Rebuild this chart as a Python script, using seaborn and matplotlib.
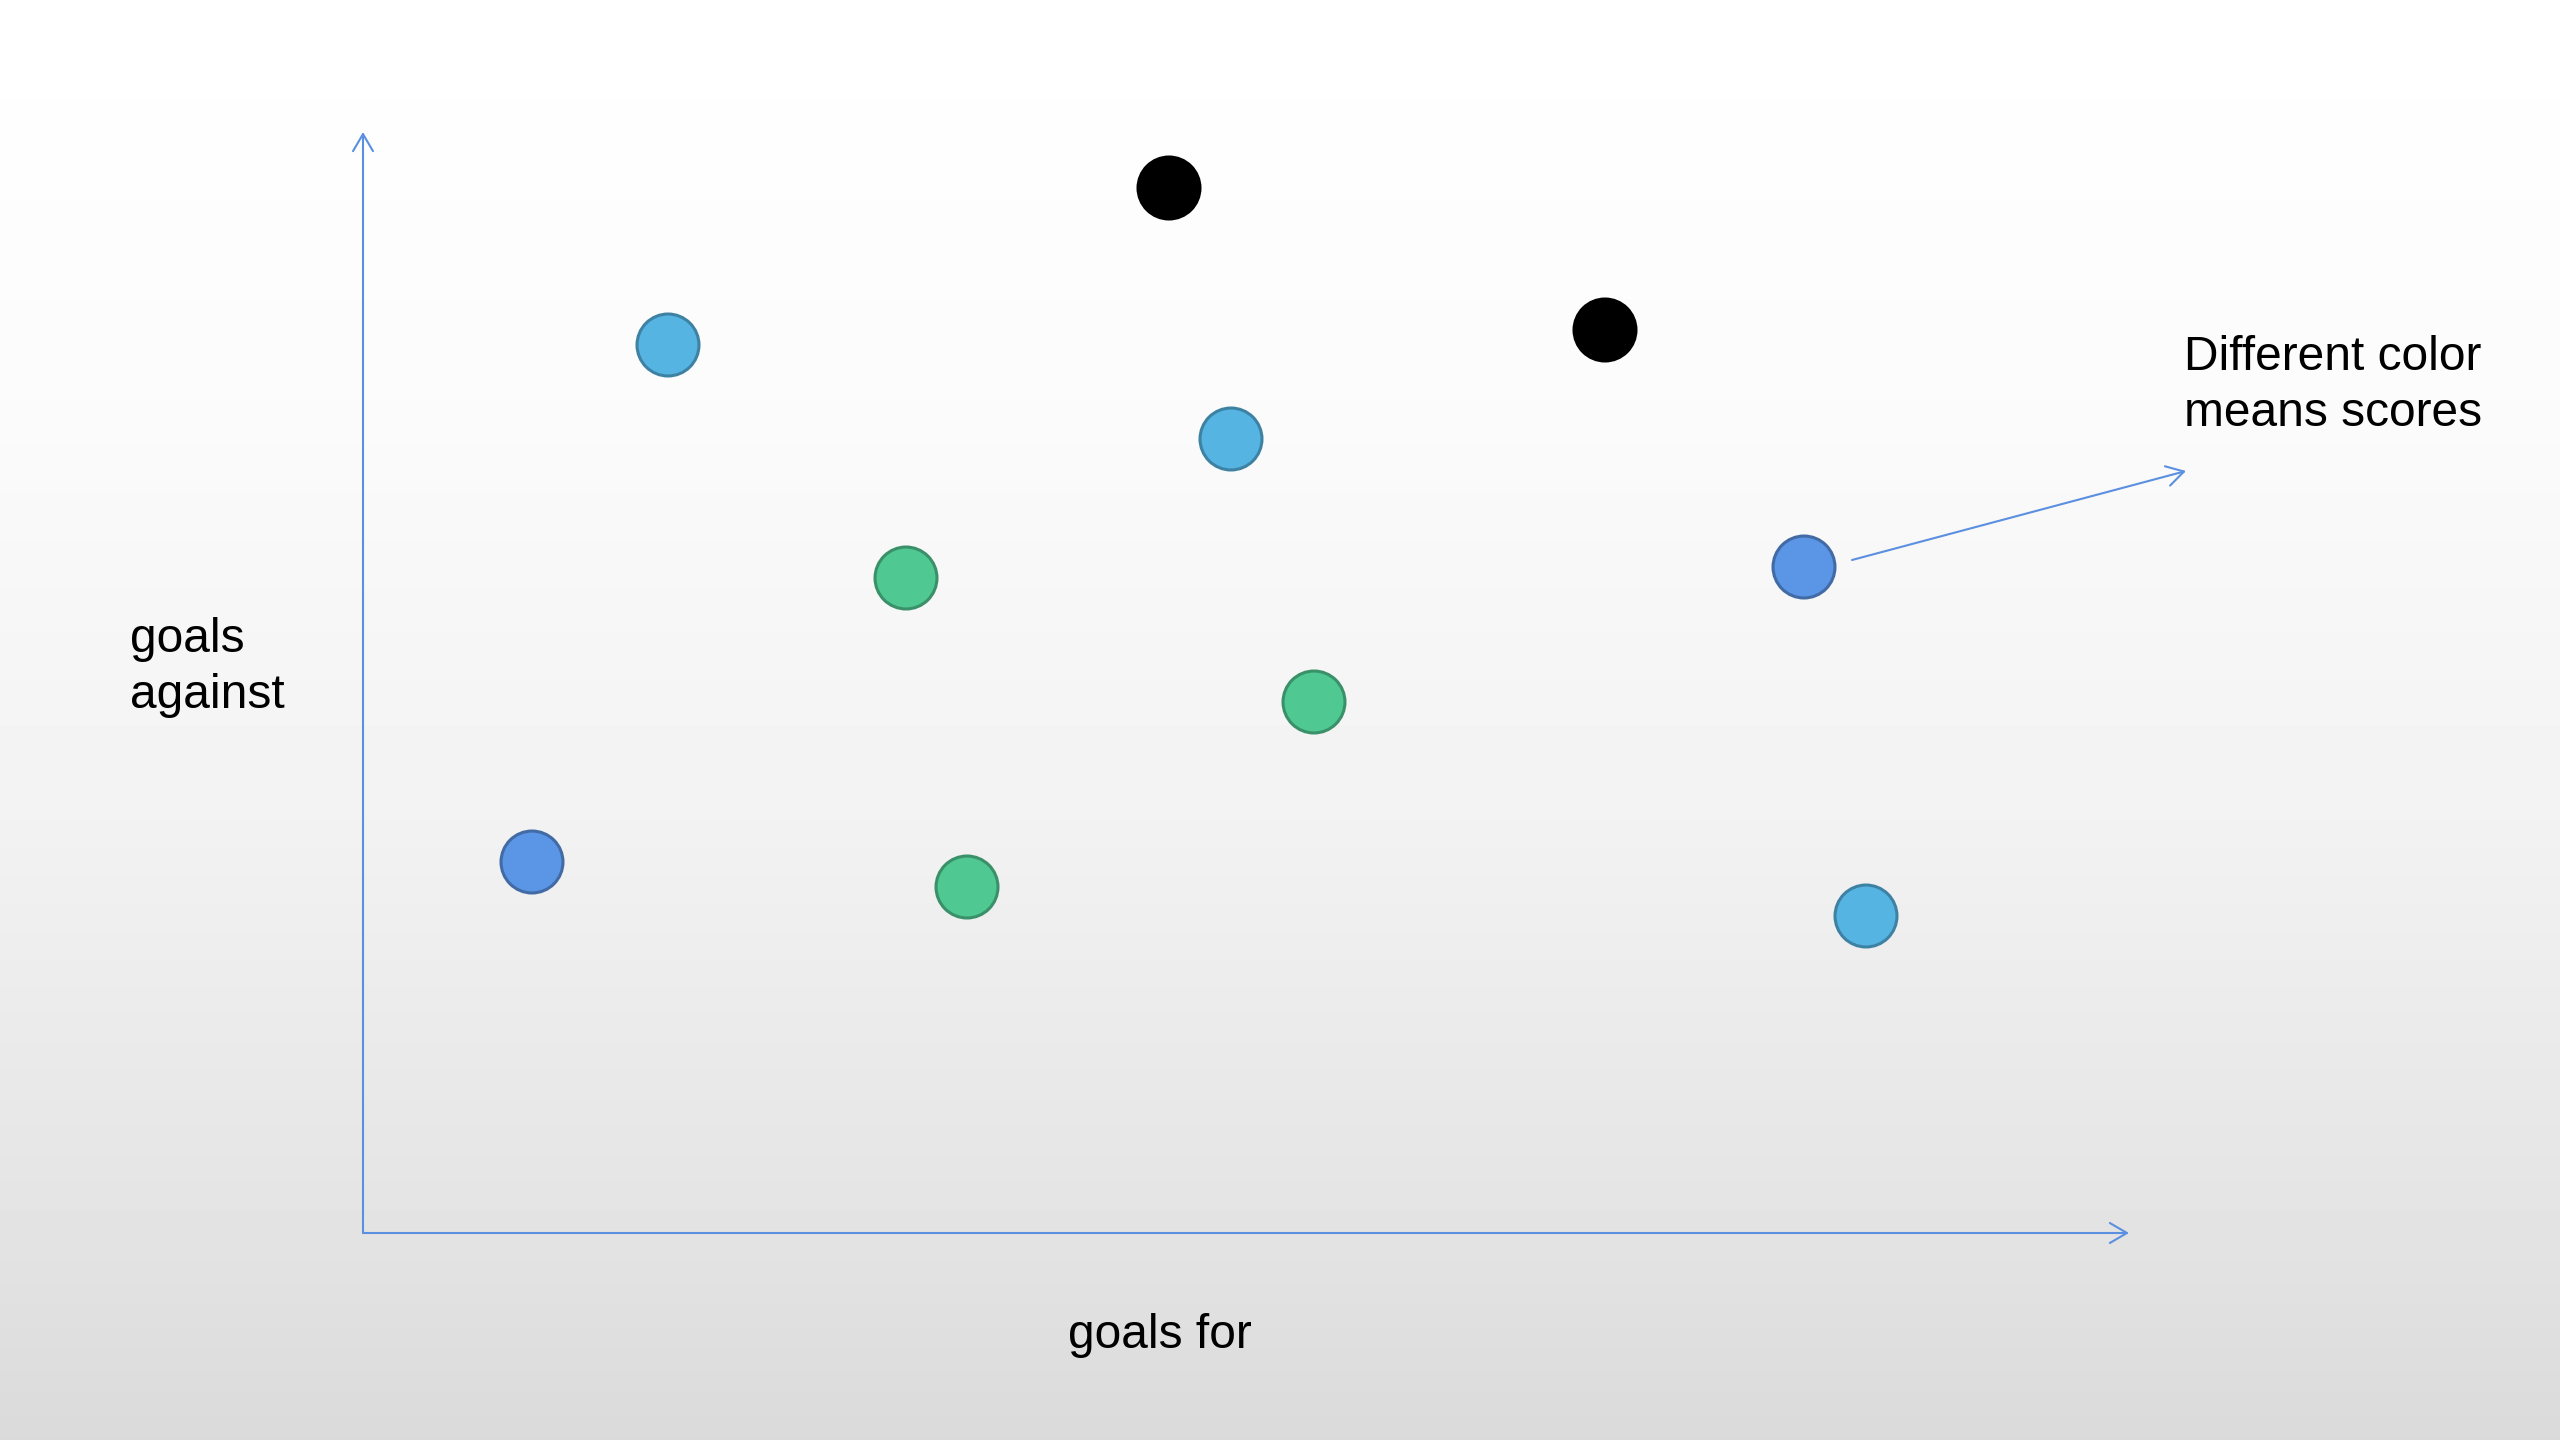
import numpy as np
import pandas as pd
import matplotlib
matplotlib.use("Agg")
import matplotlib.pyplot as plt
import seaborn as sns

# teams: goals for / goals against, colour = score group
goals_for = [3.05, 8.06, 12.42, 8.68, 5.43, 14.41, 9.51, 1.69, 6.04, 15.03]
goals_against = [8.88, 10.45, 9.03, 7.94, 6.55, 6.66, 5.31, 3.71, 3.46, 3.17]
score = ["A", "B", "B", "A", "D", "C", "D", "C", "D", "A"]
score_order = ["A", "B", "C", "D"]
score_colors = ["#56B4E3", "#000000", "#5B95E5", "#4FC892"]

x_label = "goals for"
y_label = "goals\nagainst"
note = "Different color\nmeans scores"

df = pd.DataFrame({"goals_for": goals_for, "goals_against": goals_against, "score": score})

sns.set_style("white")
plt.rcParams["font.family"] = ["Liberation Sans", "DejaVu Sans"]

fig = plt.figure(figsize=(25.6, 14.4), dpi=100)
ax = fig.add_axes([0, 0, 1, 1])
xmin, xmax, ymin, ymax = -3.63, 21.97, -2.07, 12.33

# slide-like grey gradient background
ys = np.arange(1440)
grad = np.interp(ys, [0, 400, 820, 1240, 1440], [255, 251, 242, 227, 218]) / 255
ax.imshow(np.repeat(grad[:, None], 2, axis=1), cmap="gray", vmin=0, vmax=1,
          extent=(xmin, xmax, ymin, ymax), aspect="auto", zorder=0)

sns.scatterplot(data=df, x="goals_for", y="goals_against", hue="score",
                hue_order=score_order, palette=score_colors, s=1990,
                linewidth=2.2, legend=False, ax=ax, zorder=3)
pts = ax.collections[-1]
fc = pts.get_facecolors()
ec = fc.copy()
ec[:, :3] = fc[:, :3] * 0.72
pts.set_edgecolors(ec)

axis_col = "#5B8FE0"
arrow = dict(arrowstyle="->,head_length=0.41,head_width=0.24", color=axis_col,
             lw=1.5, shrinkA=0, shrinkB=0, mutation_scale=30)
ax.annotate("", xy=(0, 11.01), xytext=(0, 0), arrowprops=arrow, zorder=2)
ax.annotate("", xy=(17.66, 0), xytext=(0, 0), arrowprops=arrow, zorder=2)
ax.annotate("", xy=(18.23, 7.62), xytext=(14.89, 6.73), arrowprops=arrow, zorder=2)

ax.set_xlim(xmin, xmax)
ax.set_ylim(ymin, ymax)
ax.axis("off")

txt = dict(fontsize=34.5, va="baseline", color="black", linespacing=1.31)
fig.text(1068 / 2560, 1 - 1348 / 1440, x_label, **txt)
fig.text(130 / 2560, 1 - 708 / 1440, y_label, **txt)
fig.text(2184 / 2560, 1 - 426 / 1440, note, **txt)

fig.savefig("out.png", dpi=100)
